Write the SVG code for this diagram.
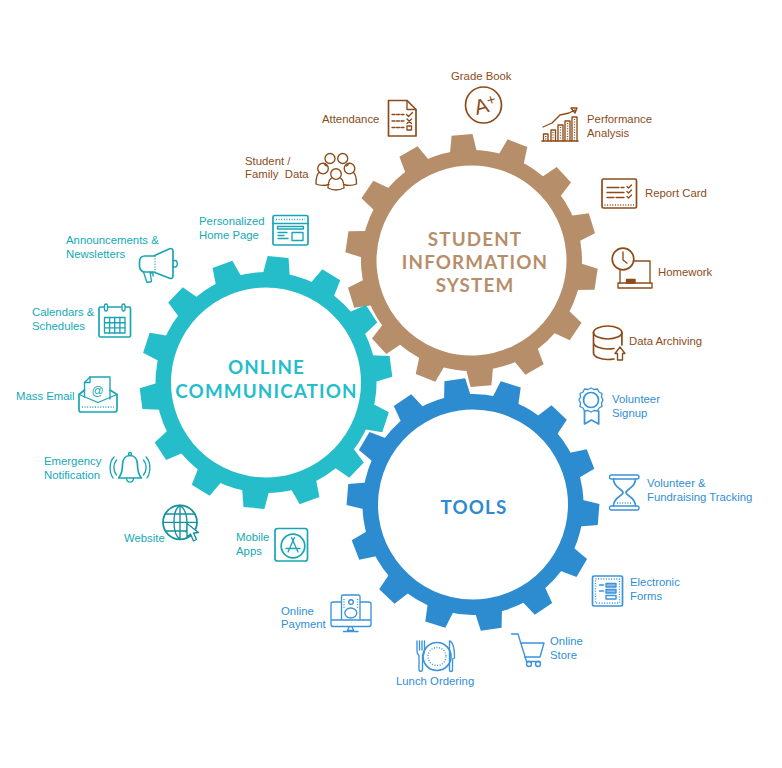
<svg xmlns="http://www.w3.org/2000/svg" width="782" height="768" viewBox="0 0 782 768">
<style>
text{font-family:"Liberation Sans",Arial,sans-serif;font-size:11.35px;white-space:pre}
.title{font-family:"Lato","Liberation Sans",sans-serif;font-size:18.8px;font-weight:700;text-anchor:middle;letter-spacing:1.15px}
.b{fill:#8b4c1a}.t{fill:#14a9b8}.u{fill:#2f8fd8}
.bi *{stroke:#8b4c1a}.ti *{stroke:#1aa5b3}.ui *{stroke:#3b93da}
.i *{fill:none;stroke-width:1.35;stroke-linejoin:round;stroke-linecap:round}
.i .d{stroke-dasharray:1 1.6;stroke-linecap:butt}
.i .s{stroke-width:1.7}
.ring{fill:none;stroke-width:15.500}
</style>
<defs>
<polygon id="tooth" points="-13.500,-108 -10.500,-126 10.500,-126 13.500,-108"/>
<g id="gear">
<circle class="ring" r="102.750" stroke="currentColor"/>
<use href="#tooth" fill="currentColor"/>
<use href="#tooth" fill="currentColor" transform="rotate(25.71)"/>
<use href="#tooth" fill="currentColor" transform="rotate(51.43)"/>
<use href="#tooth" fill="currentColor" transform="rotate(77.14)"/>
<use href="#tooth" fill="currentColor" transform="rotate(102.86)"/>
<use href="#tooth" fill="currentColor" transform="rotate(128.57)"/>
<use href="#tooth" fill="currentColor" transform="rotate(154.29)"/>
<use href="#tooth" fill="currentColor" transform="rotate(180)"/>
<use href="#tooth" fill="currentColor" transform="rotate(205.71)"/>
<use href="#tooth" fill="currentColor" transform="rotate(231.43)"/>
<use href="#tooth" fill="currentColor" transform="rotate(257.14)"/>
<use href="#tooth" fill="currentColor" transform="rotate(282.86)"/>
<use href="#tooth" fill="currentColor" transform="rotate(308.57)"/>
<use href="#tooth" fill="currentColor" transform="rotate(334.29)"/>
</g>
</defs>
<rect width="782" height="768" fill="#fff"/>

<g id="gear-sis" color="#b68f6a">
<use href="#gear" transform="translate(471.500 260.500) rotate(-4.300)"/>
<text class="title" x="475" y="245.500" style="fill:#b68f6a">STUDENT</text>
<text class="title" x="475" y="268.500" style="fill:#b68f6a">INFORMATION</text>
<text class="title" x="475" y="291.500" style="fill:#b68f6a">SYSTEM</text>
</g>
<g id="gear-comm" color="#26bdcb">
<use href="#gear" transform="translate(266 382.500) rotate(5.500)"/>
<text class="title" x="266.500" y="374" style="fill:#26bdcb">ONLINE</text>
<text class="title" x="266.500" y="397.500" style="fill:#26bdcb">COMMUNICATION</text>
</g>
<g id="gear-tools" color="#2d8bd0">
<use href="#gear" transform="translate(473 504.500) rotate(-8.300)"/>
<text class="title" x="474" y="514" style="fill:#2d8bd0">TOOLS</text>
</g>

<g id="attendance">
<text class="b" x="322" y="122.500">Attendance</text>
<g class="i bi"><path class="s" d="M388.500 100.500H407L416 109.500V136H388.500Z"/><path d="M407 100.500V109.500H416"/><path d="M392 114.500H404M392 121H404M392 127.500H404" stroke-dasharray="3 1.500"/><path d="M406.500 114.500L408.500 116.500L412.500 112.500M407 119L411.500 123.500M411.500 119L407 123.500"/><rect x="407" y="126" width="4.500" height="4"/></g>
</g>
<g id="grade-book">
<text class="b" x="451" y="80">Grade Book</text>
<g class="i bi"><circle class="s" cx="483.500" cy="105" r="18"/></g>
<text class="b" x="474" y="113" transform="rotate(-15 483 105)" style="font-size:21px">A<tspan dy="-6" style="font-size:15px">+</tspan></text>
</g>
<g id="performance-analysis">
<text class="b" x="587" y="123">Performance</text><text class="b" x="587" y="136.500">Analysis</text>
<g class="i bi"><path class="s" d="M542 141H578"/><path d="M543.500 141V134H548V141M551 141V130H555.500V141M558 141V125H563V141M565 141V121H570V141M572 141V117H577V141"/><path class="d" d="M545.700 136V141M553 132V141M560.500 127V141M567.500 123V141M574.500 119V141"/><path d="M543 127L552 123L560 115L569 113L575 110M571 108H577L575 113Z"/></g>
</g>
<g id="report-card">
<text class="b" x="645" y="197">Report Card</text>
<g class="i bi"><rect class="s" x="602" y="179" width="34.500" height="29" rx="1.500"/><path d="M607 187.500H619M621 187.500H624M607 192.500H624M607 197.500H614M616 197.500H624M627 186.500L628.500 188L631.500 185M627 191.500L628.500 193L631.500 190M627 196.500L628.500 198L631.500 195"/><path class="d" d="M604.500 205H634"/></g>
</g>
<g id="homework">
<text class="b" x="658" y="276">Homework</text>
<g class="i bi"><circle class="s" cx="623" cy="259" r="10.800"/><path d="M623 252V260L627 263"/><path d="M634 261H650V283M620 270.500V283"/><rect x="618" y="283" width="34" height="5"/><rect x="626.500" y="279.500" width="8.500" height="3.500" style="fill:#8b4c1a"/></g>
</g>
<g id="data-archiving">
<text class="b" x="629" y="345">Data Archiving</text>
<g class="i bi"><ellipse class="s" cx="607.700" cy="332.500" rx="14.200" ry="6.500"/><path class="s" d="M593.500 332.500V353C593.500 357 601 359.500 607.700 359.500C610 359.500 612 359.300 614 359M621.900 332.500V345M593.500 342.500C593.500 346.500 601 349 607.700 349C610 349 612 348.800 614 348.500"/><path d="M620 347L625 353.500H622.500V360H617.500V353.500H615Z"/></g>
</g>
<g id="volunteer-signup">
<text class="u" x="612" y="403">Volunteer</text><text class="u" x="612" y="417">Signup</text>
<g class="i ui"><circle cx="591" cy="400" r="7.500" class="s"/><path d="M591 388L594 389.500L597.500 389L599 392L602 393.500L601.500 397L603 400L601.500 403L602 406.500L599 408L597.500 411L594 410.500L591 412L588 410.500L584.500 411L583 408L580 406.500L580.500 403L579 400L580.500 397L580 393.500L583 392L584.500 389L588 389.500Z"/><path class="s" d="M584.500 411V424L591.500 420L598.700 424V411"/></g>
</g>
<g id="volunteer-tracking">
<text class="u" x="647" y="487">Volunteer &amp;</text><text class="u" x="647" y="501">Fundraising Tracking</text>
<g class="i ui"><rect x="609.500" y="475" width="29.500" height="4" rx="2"/><rect x="609.500" y="506" width="29.500" height="4" rx="2"/><path class="s" d="M613.500 479C613.500 488 623 489 623 492.500C623 496 613.500 497 613.500 506M635.500 479C635.500 488 626 489 626 492.500C626 496 635.500 497 635.500 506"/><path class="d" d="M617 503H632"/></g>
</g>
<g id="electronic-forms">
<text class="u" x="630" y="586">Electronic</text><text class="u" x="630" y="600">Forms</text>
<g class="i ui"><rect class="s" x="592.500" y="576" width="30" height="30" rx="1.500"/><rect class="d" x="595.500" y="579" width="24" height="24"/><path d="M599.500 585H603.500M599.500 591H603.500"/><rect x="606" y="583.500" width="10" height="3.500" style="fill:#8cbde8"/><rect x="606" y="589.500" width="10" height="3.500" style="fill:#8cbde8"/><rect x="606" y="595.500" width="10" height="3.500"/></g>
</g>
<g id="online-store">
<text class="u" x="550" y="645">Online</text><text class="u" x="550" y="659">Store</text>
<g class="i ui"><path d="M511.500 634H518L526.500 661.500H540M520.500 643H544L540 657H524.500"/><circle cx="529" cy="664" r="2.500"/><circle cx="538" cy="664" r="2.500"/></g>
</g>
<g id="lunch-ordering">
<text class="u" x="396" y="685">Lunch Ordering</text>
<g class="i ui"><circle class="s" cx="437" cy="656.500" r="14"/><circle class="d" cx="437" cy="656.500" r="9"/><path d="M417 641V651C417 654 418.500 655 419 655.500V669C419 672 422.500 672 422.500 669V655.500C423 655 424.500 654 424.500 651V641M419.500 641V650M422 641V650"/><path d="M449.500 641C453 642 454.500 648 454.500 658L452.500 659V670C452.500 672 449.500 672 449.500 670Z"/></g>
</g>
<g id="online-payment">
<text class="u" x="281" y="615">Online</text><text class="u" x="281" y="628">Payment</text>
<g class="i ui"><path d="M341 602H333C332 602 331 603 331 604V624C331 625.500 332 626.500 333 626.500H369C370 626.500 371 625.500 371 624V604C371 603 370 602 369 602H360.500M331 620H371"/><path d="M349 627L347.500 630.500H353.500L352 627M343.500 631.500H358"/><path d="M341.500 619V596.500C341.500 595.500 342.500 595 343 595H358.500C359.500 595 360 595.500 360 596.500V619"/><circle cx="351" cy="602" r="2.300"/><ellipse cx="350.800" cy="613" rx="6" ry="5"/><path class="d" d="M344 599V608M357.500 599V608"/></g>
</g>
<g id="mobile-apps">
<text class="t" x="236" y="541">Mobile</text><text class="t" x="236" y="555">Apps</text>
<g class="i ti"><rect class="s" x="275" y="528.500" width="32.500" height="32.500" rx="2.500"/><circle class="s" cx="293" cy="546" r="11.800"/><path d="M294.500 537.500L288 552M291.500 537.500L298 552M286 548.500H300"/></g>
</g>
<g id="website">
<text class="t" x="124" y="542">Website</text>
<g class="i"><circle class="s" cx="180" cy="522.300" r="17" style="stroke:#14919f"/><path d="M163 522.300H197M165.500 514H194.500M165.500 531H186M180 505.300V539.300M180 505.300C172 510 172 534 180 539.300M180 505.300C188 510 188 528 186 532" style="stroke:#14919f"/><path d="M187 523.500V537L190.500 534L193.500 541L196.500 539.500L193.500 533L198.500 532.500Z" style="stroke:#14919f;fill:#fff"/></g>
</g>
<g id="emergency-notification">
<text class="t" x="44" y="465">Emergency</text><text class="t" x="44" y="479">Notification</text>
<g class="i ti"><path class="s" d="M118.500 478C122 474 122.500 470 122.500 465C122.500 459 125.500 455.500 130 455.500C134.500 455.500 137.500 459 137.500 465C137.500 470 138 474 141.500 478Z"/><circle cx="130" cy="454" r="1.500"/><path d="M126.500 478C126.500 483.500 133.500 483.500 133.500 478"/><path d="M114 457C109 462 109 472 113 478M116.500 460C113 464 113 471 116.500 475M146 457C151 462 151 472 147 478M143.500 460C147 464 147 471 143.500 475"/></g>
</g>
<g id="mass-email">
<text class="t" x="16" y="400">Mass Email</text>
<g class="i ti"><path class="s" d="M84.500 390L79 394.500V409.500C79 411 80 412 81 412H114.500C116 412 117 411 117 409.500V394.500L110 390"/><path d="M79 394.500L98 402.500L117 394.500"/><path d="M84.500 397V382.500L90 377H110V399"/><path d="M84.500 382.500H90V377"/><path class="d" d="M82 407H114"/></g>
<text x="97.500" y="395" text-anchor="middle" style="font-size:12px;fill:#1aa5b3">@</text>
</g>
<g id="calendars-schedules">
<text class="t" x="32" y="316">Calendars &amp;</text><text class="t" x="32" y="330">Schedules</text>
<g class="i ti"><rect class="s" x="99" y="307" width="31.500" height="30" rx="1.500"/><rect x="104.500" y="304" width="3" height="7" rx="1.500" style="fill:#fff"/><rect x="122" y="304" width="3" height="7" rx="1.500" style="fill:#fff"/><rect x="104.500" y="317.500" width="20.500" height="15.500"/><path d="M109.600 317.500V333M114.700 317.500V333M119.900 317.500V333M104.500 322.700H125M104.500 327.900H125"/></g>
</g>
<g id="announcements-newsletters">
<text class="t" x="66" y="244">Announcements &amp;</text><text class="t" x="66" y="258">Newsletters</text>
<g class="i ti"><path class="s" d="M153.500 256H145C141.500 256 139.500 258.500 139.500 262V266C139.500 269 141.500 272 145 272H153.500L169 278C171 279 173 278.500 173 276V251C173 248.500 171 248 169 249Z"/><path class="d" d="M155 256V272"/><path d="M143.500 272L147 282.500L151.500 281.500L150 272M150 273H153V276"/><path d="M173 260.500H175C178 260.500 178 267 175 267H173"/></g>
</g>
<g id="personalized-home-page">
<text class="t" x="199" y="225">Personalized</text><text class="t" x="199" y="239">Home Page</text>
<g class="i ti"><rect class="s" x="273" y="215.500" width="35" height="29.500" rx="1.500"/><path d="M273 223.500H308"/><path class="d" d="M276 219.500H305"/><path d="M277.500 226.500H303.500V229H277.500Z"/><path d="M278 232.500H287M278 235.500H284M278 238.500H288"/><rect x="292" y="232.500" width="11" height="8"/></g>
</g>
<g id="student-family-data">
<text class="b" x="245" y="165">Student /</text><text class="b" x="245" y="178">Family  Data</text>
<g class="i bi"><circle cx="330" cy="158.500" r="5"/><circle cx="342.700" cy="158.500" r="5"/><path d="M325.500 163.500C324 164 325 165 326.500 166M347.500 163.500C349 164 348 165 346.500 166"/><circle cx="323" cy="168.500" r="5.300"/><circle cx="349.500" cy="168.500" r="5.300"/><path d="M319 172.500C316 175 316 180 316 184C320 186 325 185.500 329 184.500M353.500 172.500C356.500 175 356.500 180 356.500 184C352 186 347 185.500 343.500 184.500"/><circle cx="336" cy="174" r="5.300"/><path d="M331.500 178C328.500 180 328 185 328 188C333 190.500 339 190.500 344 188C344 185 343.500 180 340.500 178"/></g>
</g>
</svg>
